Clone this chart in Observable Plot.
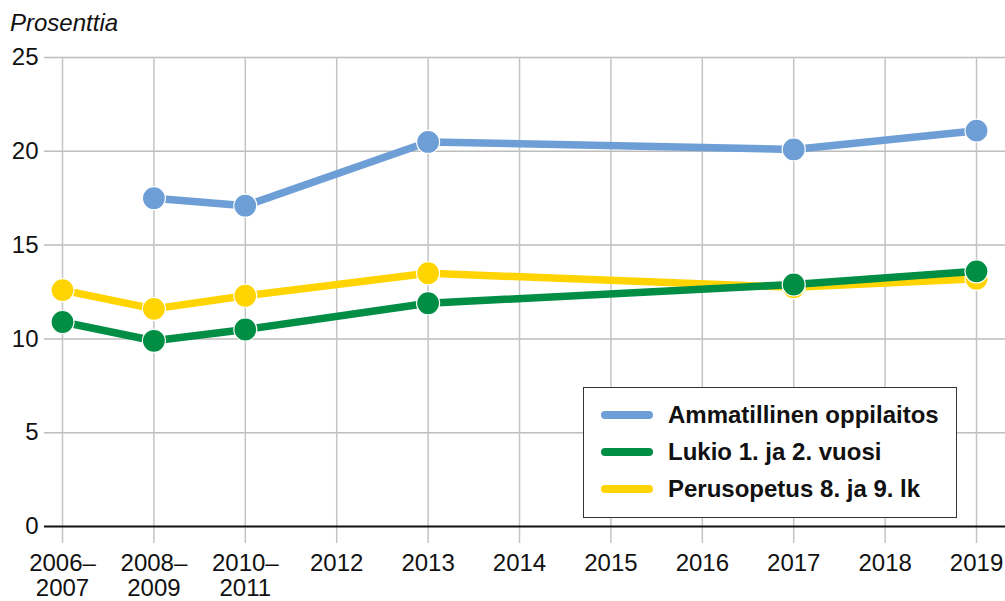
<!DOCTYPE html>
<html>
<head>
<meta charset="utf-8">
<script src="https://cdn.jsdelivr.net/npm/d3@7"></script>
<script src="https://cdn.jsdelivr.net/npm/@observablehq/plot@0.6"></script>
<style>
  html, body { margin: 0; padding: 0; background: #fff; }
  body { font-family: "Liberation Sans", Arial, sans-serif; }
  #wrap { position: relative; width: 1005px; height: 601px; overflow: hidden; }
  #title { height: 40px; box-sizing: border-box; padding-top: 3px; line-height: 40px; font-size: 24px; font-style: italic; padding-left: 10px; color: #111; white-space: nowrap; }
  #chart svg { overflow: visible; display: block; }
  #legend { position: absolute; left: 583px; top: 387px; width: 372px; height: 121px; border: 1.5px solid #333; background: #fff; padding-top: 8px; box-sizing: content-box; }
  .row { height: 37px; display: flex; align-items: center; font-weight: bold; font-size: 24px; color: #111; }
  .sw { width: 52px; height: 8px; border-radius: 4px; margin-left: 17px; margin-right: 15px; }
</style>
</head>
<body>
<div id="wrap">
  <div id="title">Prosenttia</div>
  <div id="chart"></div>
  <div id="legend"></div>
</div>
<script>
const periods = ["2006–2007","2008–2009","2010–2011","2012","2013","2014","2015","2016","2017","2018","2019"];
const tickLabels = ["2006–\n2007","2008–\n2009","2010–\n2011","2012","2013","2014","2015","2016","2017","2018","2019"];
const seriesNames = ["Ammatillinen oppilaitos","Lukio 1. ja 2. vuosi","Perusopetus 8. ja 9. lk"];
const seriesColors = ["#6e9ed6","#008e45","#ffd400"];
const ammatillinen = [null, 17.5, 17.1, null, 20.5, null, null, null, 20.1, null, 21.1];
const lukio        = [10.9, 9.9, 10.5, null, 11.9, null, null, null, 12.9, null, 13.6];
const perusopetus  = [12.6, 11.6, 12.3, null, 13.5, null, null, null, 12.75, null, 13.2];
const yTicks = [0, 5, 10, 15, 20, 25];

function toRows(values, name) {
  return values.map((v, i) => ({i, period: periods[i], value: v, series: name})).filter(d => d.value != null);
}
const dataA = toRows(ammatillinen, seriesNames[0]);
const dataL = toRows(lukio, seriesNames[1]);
const dataP = toRows(perusopetus, seriesNames[2]);
const idx = periods.map((_, i) => i);

function seriesMarks(data, color) {
  return [
    Plot.line(data, {x: "i", y: "value", stroke: color, strokeWidth: 7.5, strokeLinejoin: "round", strokeLinecap: "round"}),
    Plot.dot(data, {x: "i", y: "value", r: 11.5, fill: color, stroke: "#fff", strokeWidth: 1.2})
  ];
}

const chart = Plot.plot({
  width: 1005,
  height: 561,
  marginTop: 17,
  marginBottom: 75,
  marginLeft: 44,
  marginRight: 0,
  style: {fontFamily: "'Liberation Sans', Arial, sans-serif", fontSize: "24px", color: "#111", background: "#fff", overflow: "visible"},
  x: {type: "linear", domain: [-0.197, 10.317]},
  y: {domain: [0, 25]},
  marks: [
    Plot.ruleY(yTicks.filter(d => d > 0), {stroke: "#bdbdbd", strokeWidth: 1.5}),
    Plot.ruleX(idx, {x: d => d, stroke: "#c4c4c4", strokeWidth: 1.5, insetBottom: -17}),
    Plot.ruleY([0], {stroke: "#111", strokeWidth: 2.2}),
    Plot.axisY({ticks: yTicks, tickSize: 0, tickPadding: 6, fontSize: 24, label: null}),
    Plot.axisX({ticks: idx, tickFormat: i => tickLabels[i], tickSize: 0, tickPadding: 26, fontSize: 24, lineHeight: 1.06, label: null}),
    ...seriesMarks(dataA, seriesColors[0]),
    ...seriesMarks(dataP, seriesColors[2]),
    ...seriesMarks(dataL, seriesColors[1])
  ]
});
document.getElementById("chart").appendChild(chart);

const legend = document.getElementById("legend");
seriesNames.forEach((name, k) => {
  const row = document.createElement("div");
  row.className = "row";
  const sw = document.createElement("div");
  sw.className = "sw";
  sw.style.background = seriesColors[k];
  const lab = document.createElement("span");
  lab.textContent = name;
  row.appendChild(sw);
  row.appendChild(lab);
  legend.appendChild(row);
});
</script>
</body>
</html>
